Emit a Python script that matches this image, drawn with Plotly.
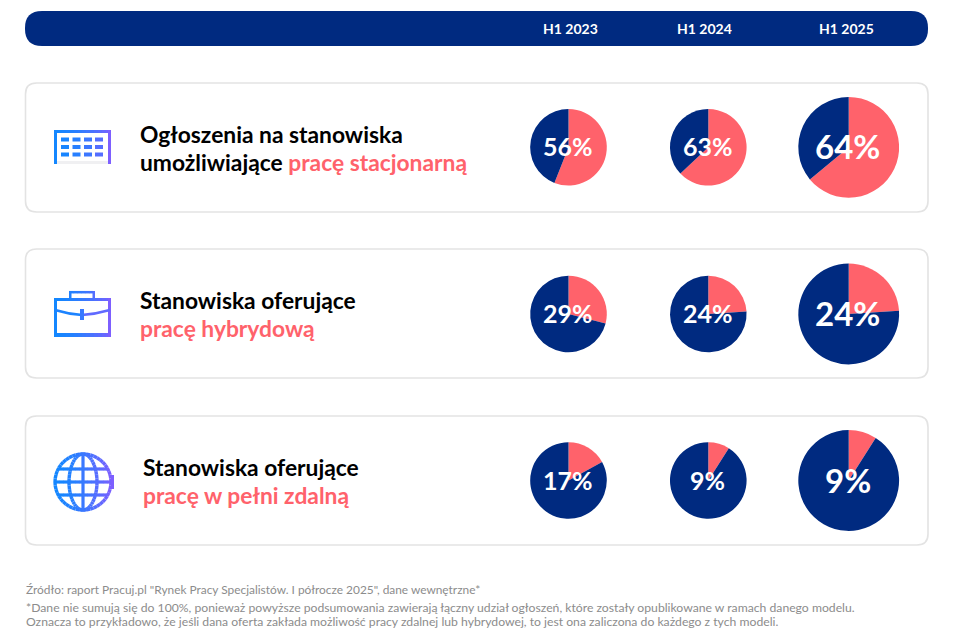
import numpy as np
import plotly.graph_objects as go

# Data
periods = ["H1 2023", "H1 2024", "H1 2025"]
stacjonarna = [56, 63, 64]
hybrydowa = [29, 24, 24]
zdalna = [17, 9, 9]
series = [stacjonarna, hybrydowa, zdalna]

titles = [
    ("Ogłoszenia na stanowiska", "umożliwiające ", "pracę stacjonarną"),
    ("Stanowiska oferujące", "", "pracę hybrydową"),
    ("Stanowiska oferujące", "", "pracę w pełni zdalną"),
]
source = 'Źródło: raport Pracuj.pl "Rynek Pracy Specjalistów. I półrocze 2025", dane wewnętrzne*'
note_1 = "*Dane nie sumują się do 100%, ponieważ powyższe podsumowania zawierają łączny udział ogłoszeń, które zostały opublikowane w ramach danego modelu."
note_2 = "Oznacza to przykładowo, że jeśli dana oferta zakłada możliwość pracy zdalnej lub hybrydowej, to jest ona zaliczona do każdego z tych modeli."

W, H = 960, 642
PAGE = 8  # the page's default body margin, the figure starts here
NAVY = "#002A80"
CORAL = "#FF626B"
FONT = "Lato"

# Layout in pixels
col_x = [568.5, 708.3, 848.7]
col_r = [38.3, 38.3, 50.4]
row_y = [147.3, 314, 480.5]
card_top = [83, 249, 416]
title_x = [138, 138, 141]
title_y = [134, 300, 467]
pct_size = [25, 25, 33]

fig = go.Figure()

# Invisible trace, it only brings up the pixel axes used by shapes and annotations
fig.add_trace(go.Scatter(x=[PAGE, W], y=[PAGE, H], mode="markers", marker=dict(opacity=0),
                         hoverinfo="skip", showlegend=False))


def grad(x):
    # icon gradient, blue on the left to violet on the right
    t = min(max((x - 54) / 57, 0), 1) ** 1.5
    a, b = np.array([20, 135, 255]), np.array([125, 95, 255])
    c = (a + (b - a) * t).astype(int)
    return f"rgb({c[0]},{c[1]},{c[2]})"


def box(x0, y0, x1, y1, color):
    fig.add_shape(type="rect", x0=x0, y0=y0, x1=x1, y1=y1, fillcolor=color, line_width=0, layer="below")


def rounded(x0, y0, x1, y1, r):
    return (f"M{x0+r},{y0} L{x1-r},{y0} Q{x1},{y0} {x1},{y0+r} L{x1},{y1-r} Q{x1},{y1} {x1-r},{y1} "
            f"L{x0+r},{y1} Q{x0},{y1} {x0},{y1-r} L{x0},{y0+r} Q{x0},{y0} {x0+r},{y0} Z")


def ellipse(cx, cy, rx, ry, width=3.4, steps=48):
    # short pieces so the icon gradient runs along the outline
    a = np.linspace(0, 2 * np.pi, steps + 1)
    xs, ys = cx + rx * np.cos(a), cy + ry * np.sin(a)
    for i in range(steps):
        fig.add_shape(type="line", x0=xs[i], y0=ys[i], x1=xs[i + 1], y1=ys[i + 1],
                      line=dict(color=grad((xs[i] + xs[i + 1]) / 2), width=width), layer="below")


def hline(x0, x1, y, height=3.2):
    for x in np.arange(x0, x1, 4):
        box(x, y - height / 2, min(x + 4.3, x1), y + height / 2, grad(x))


# Header bar and cards
fig.add_shape(type="path", path=rounded(25, 11, 928, 46, 17), fillcolor=NAVY, line_width=0, layer="below")
for top in card_top:
    fig.add_shape(type="path", path=rounded(25.5, top, 928, top + 129, 11), fillcolor="white",
                  line=dict(color="#E3E3E3", width=1.6), layer="below")

# Keyboard icon
hline(54, 111, 131.5, 3)
box(54, 130, 57, 164, grad(54))
box(108, 130, 111, 164, grad(111))
box(57, 161, 108, 164, "#F0F0F2")
for cx in [61, 72.5, 84, 95]:
    for cy in [137.5, 145, 152.5]:
        box(cx, cy, cx + 8, cy + 4, grad(cx))

# Briefcase icon
hline(54, 111, 299.5, 3)
hline(54, 111, 335, 4)
box(54, 298, 57, 337, grad(54))
box(108, 298, 111, 337, grad(111))
hline(69, 95, 292.2, 2.5)
box(69, 291, 71.5, 298, grad(69))
box(92.5, 291, 95, 298, grad(95))
fig.add_shape(type="path", path="M55,310 Q68,314 82,315", line=dict(color=grad(65), width=2.6), layer="below")
fig.add_shape(type="path", path="M82,315 Q96,314 110,310", line=dict(color=grad(100), width=2.6), layer="below")
box(80, 309, 84, 320, grad(82))

# Globe icon
gx, gy, gr = 83, 482, 28
ellipse(gx, gy, gr, gr)
ellipse(gx, gy, 14, gr)
box(gx - 1.6, gy - gr, gx + 1.6, gy + gr, grad(gx))
hline(gx - gr, gx + gr, gy)
hline(gx - 24, gx + 24, gy - 13)
hline(gx - 24, gx + 24, gy + 13)
box(111, 475, 114, 489, grad(111))

# Pies
for r, row in enumerate(series):
    for c, val in enumerate(row):
        rad = col_r[c]
        fig.add_trace(go.Pie(
            values=[val, 100 - val],
            labels=[f"{periods[c]} tak", f"{periods[c]} reszta"],
            sort=False,
            direction="clockwise",
            rotation=0,
            textinfo="none",
            hoverinfo="label+percent",
            showlegend=False,
            marker=dict(colors=[CORAL, NAVY], line=dict(width=0)),
            domain=dict(
                x=[(col_x[c] - rad - PAGE) / (W - PAGE), (col_x[c] + rad - PAGE) / (W - PAGE)],
                y=[1 - (row_y[r] + rad - PAGE) / (H - PAGE), 1 - (row_y[r] - rad - PAGE) / (H - PAGE)],
            ),
        ))
        fig.add_annotation(x=col_x[c] - 0.8, y=row_y[r] - 1, text=f"<b>{val}%</b>", showarrow=False,
                           font=dict(family=FONT, size=pct_size[c], color="white"))

# Header labels
for c, p in enumerate(periods):
    fig.add_annotation(x=[570.5, 704, 846][c], y=28.5, text=f"<b>{p}</b>", showarrow=False,
                       font=dict(family=FONT, size=14, color="white"))

# Card titles, one annotation per line to hold the line gap
for r, (first, plain, accent) in enumerate(titles):
    fig.add_annotation(x=title_x[r], y=title_y[r], xanchor="left", showarrow=False,
                       text=f"<b>{first}</b>", font=dict(family=FONT, size=22.8, color="#000000"))
    fig.add_annotation(x=title_x[r], y=title_y[r] + 28, xanchor="left", showarrow=False,
                       text=f'<b>{plain}<span style="color:{CORAL}">{accent}</span></b>',
                       font=dict(family=FONT, size=22.8, color="#000000"))

# Footer
for y, line, size in zip([589, 607, 621], [source, note_1, note_2], [11.9, 12.2, 12.2]):
    fig.add_annotation(x=24, y=y, xanchor="left", showarrow=False, text=line,
                       font=dict(family=FONT, size=size, color="#8C8C8C"))

fig.update_shapes(xref="x", yref="y")
fig.update_annotations(xref="x", yref="y")

fig.update_layout(
    width=W - PAGE, height=H - PAGE,
    margin=dict(l=0, r=0, t=0, b=0),
    paper_bgcolor="white", plot_bgcolor="rgba(0,0,0,0)",
    xaxis=dict(range=[PAGE, W], visible=False, fixedrange=True),
    yaxis=dict(range=[H, PAGE], visible=False, fixedrange=True),
)

fig.write_html("out.html")
